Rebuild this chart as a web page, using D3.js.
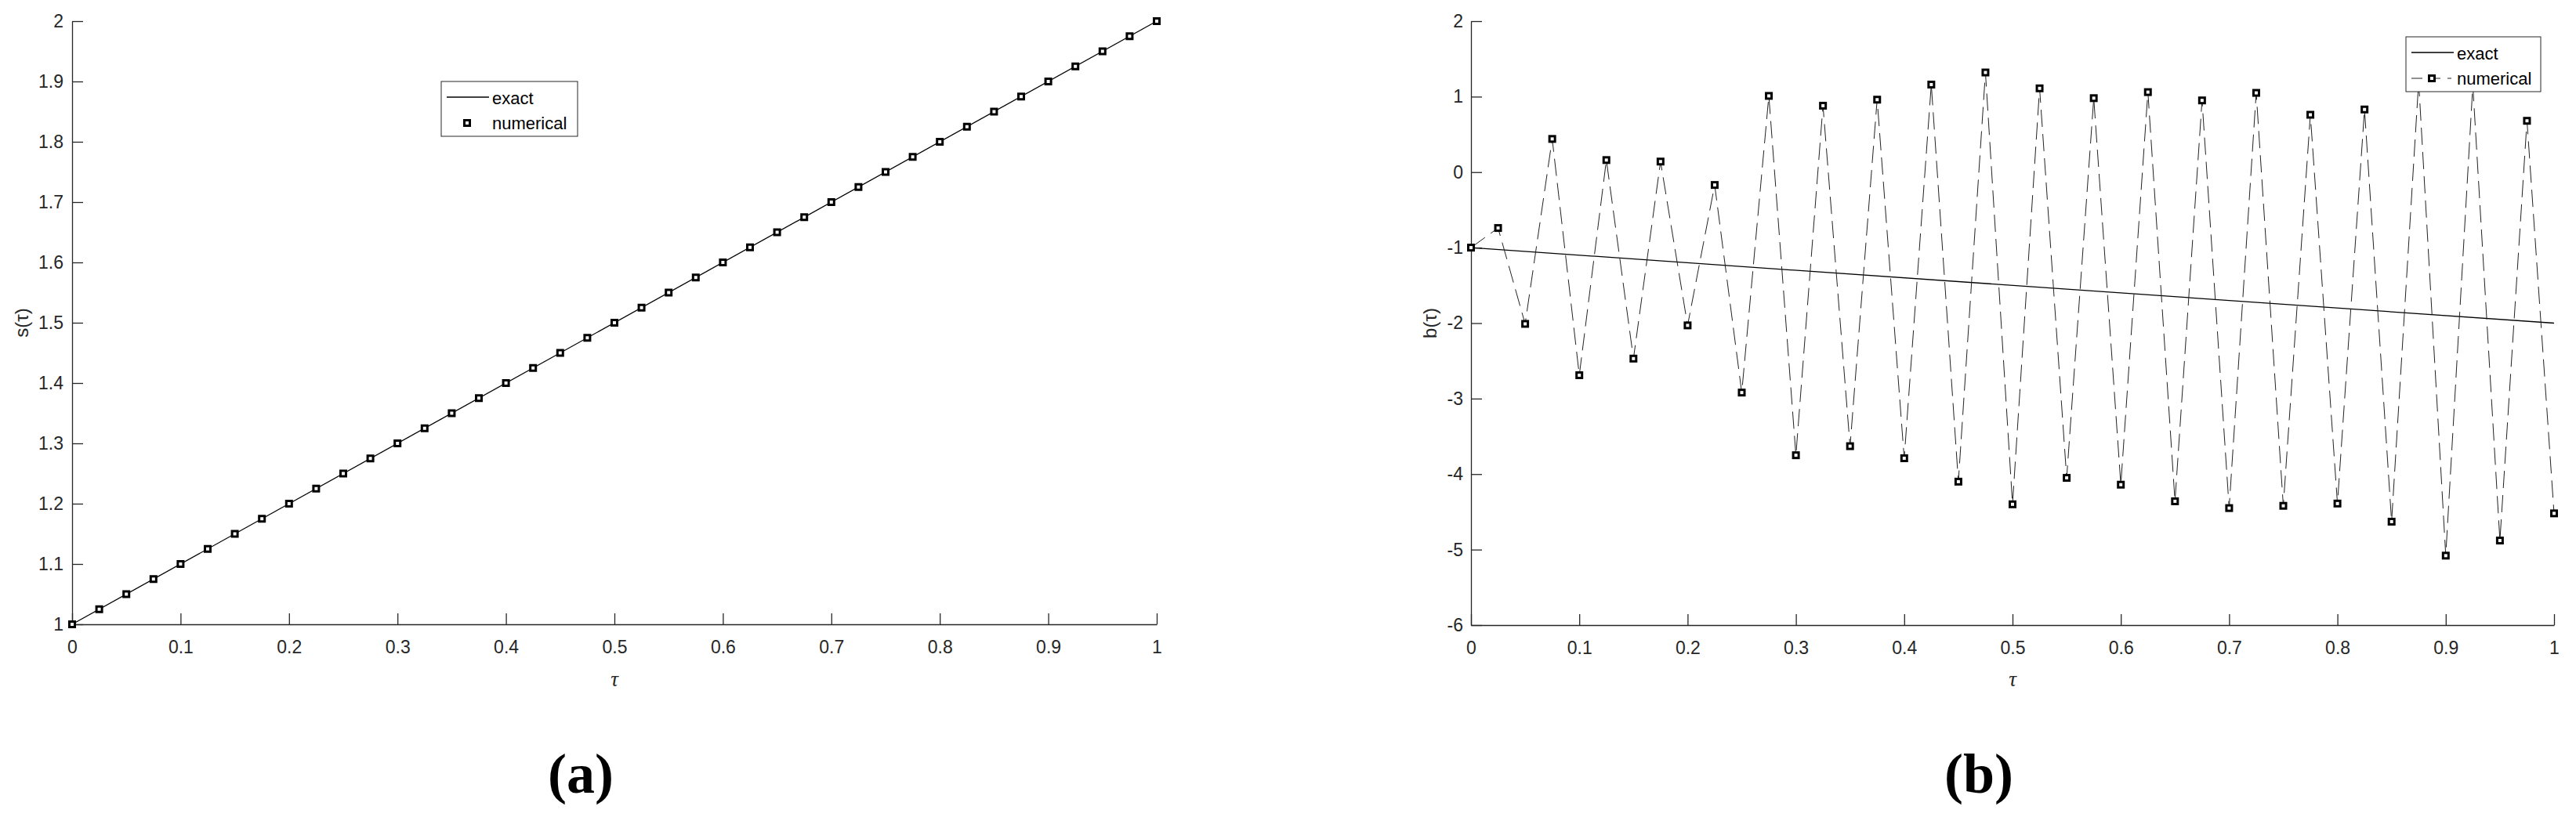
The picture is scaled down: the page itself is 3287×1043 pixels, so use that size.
<!DOCTYPE html>
<html>
<head>
<meta charset="utf-8">
<script src="https://cdn.jsdelivr.net/npm/d3@7"></script>
<style>
  body { margin: 0; background: #fff; }
  svg { display: block; }
</style>
</head>
<body>
<div id="chart"></div>
<script>
// tau grid of the numerical solution
const tau = [0, 0.025, 0.05, 0.075, 0.1, 0.125, 0.15, 0.175, 0.2, 0.225,
             0.25, 0.275, 0.3, 0.325, 0.35, 0.375, 0.4, 0.425, 0.45, 0.475,
             0.5, 0.525, 0.55, 0.575, 0.6, 0.625, 0.65, 0.675, 0.7, 0.725,
             0.75, 0.775, 0.8, 0.825, 0.85, 0.875, 0.9, 0.925, 0.95, 0.975, 1];

// exact solutions (straight lines)
const exactTau = [0, 1];
const sExact = [1, 2];
const bExact = [-1, -2];

// numerical values
const sNumerical = [1, 1.025, 1.05, 1.075, 1.1, 1.125, 1.15, 1.175, 1.2, 1.225,
                    1.25, 1.275, 1.3, 1.325, 1.35, 1.375, 1.4, 1.425, 1.45, 1.475,
                    1.5, 1.525, 1.55, 1.575, 1.6, 1.625, 1.65, 1.675, 1.7, 1.725,
                    1.75, 1.775, 1.8, 1.825, 1.85, 1.875, 1.9, 1.925, 1.95, 1.975, 2];
const bNumerical = [-1.0, -0.74, -2.01, 0.44, -2.69, 0.16, -2.47, 0.14, -2.03, -0.17,
                    -2.92, 1.01, -3.75, 0.88, -3.63, 0.96, -3.79, 1.16, -4.10, 1.32,
                    -4.40, 1.11, -4.05, 0.98, -4.14, 1.06, -4.36, 0.95, -4.45, 1.05,
                    -4.42, 0.76, -4.39, 0.83, -4.63, 1.2, -5.08, 1.15, -4.88, 0.68, -4.52];

// tick values
const xTicks = [0, 0.1, 0.2, 0.3, 0.4, 0.5, 0.6, 0.7, 0.8, 0.9, 1];
const sTicks = [1, 1.1, 1.2, 1.3, 1.4, 1.5, 1.6, 1.7, 1.8, 1.9, 2];
const bTicks = [-6, -5, -4, -3, -2, -1, 0, 1, 2];

const legendLabels = ["exact", "numerical"];

const W = 3287, H = 1043;
const axisColor = "#262626";
const sans = "'Liberation Sans', Arial, sans-serif";
const serif = "'Liberation Serif', 'Times New Roman', serif";

const svg = d3.select("#chart").append("svg")
    .attr("width", W)
    .attr("height", H);

const fmt = d => String(+d.toFixed(2));

function drawPanel(opt) {
    const x = d3.scaleLinear().domain([0, 1]).range([opt.left, opt.right]);
    const y = d3.scaleLinear().domain(opt.yDomain).range([opt.bottom, opt.top]);
    const g = svg.append("g");

    // axes (inward ticks, box off)
    const xAxis = g.append("g")
        .attr("transform", `translate(0,${opt.bottom})`)
        .call(d3.axisBottom(x).tickValues(xTicks).tickFormat(fmt)
            .tickSizeInner(-14).tickSizeOuter(0).tickPadding(21));
    const yAxis = g.append("g")
        .attr("transform", `translate(${opt.left},0)`)
        .call(d3.axisLeft(y).tickValues(opt.yTicks).tickFormat(fmt)
            .tickSizeInner(-14).tickSizeOuter(0).tickPadding(opt.yPad));
    [xAxis, yAxis].forEach(a => {
        a.selectAll("path, line").attr("stroke", axisColor).attr("stroke-width", 1.3);
        a.selectAll("text").attr("fill", axisColor)
            .style("font-family", sans).style("font-size", "23px");
    });

    // exact line
    const line = d3.line().x(d => x(d[0])).y(d => y(d[1]));
    g.append("path")
        .datum(exactTau.map((t, i) => [t, opt.exact[i]]))
        .attr("d", line)
        .attr("fill", "none")
        .attr("stroke", "#000")
        .attr("stroke-width", 1.3);

    const pts = tau.map((t, i) => [t, opt.numerical[i]]);
    if (opt.dashed) {
        g.append("path")
            .datum(pts)
            .attr("d", line)
            .attr("fill", "none")
            .attr("stroke", "#222")
            .attr("stroke-width", 1)
            .attr("stroke-dasharray", "22,9");
    }

    // square markers
    g.selectAll("rect.marker")
        .data(pts)
        .enter()
        .append("rect")
        .attr("class", "marker")
        .attr("x", d => x(d[0]) - 3.5)
        .attr("y", d => y(d[1]) - 3.5)
        .attr("width", 7)
        .attr("height", 7)
        .attr("fill", "#fff")
        .attr("stroke", "#000")
        .attr("stroke-width", 3);

    // axis labels
    g.append("text")
        .attr("x", (opt.left + opt.right) / 2)
        .attr("y", 876)
        .attr("text-anchor", "middle")
        .style("font-family", serif)
        .style("font-style", "italic")
        .style("font-size", "27px")
        .attr("fill", axisColor)
        .text("τ");
    g.append("text")
        .attr("transform", `translate(${opt.yLabelX},${(opt.top + opt.bottom) / 2}) rotate(-90)`)
        .attr("text-anchor", "middle")
        .attr("dy", "0.35em")
        .style("font-family", sans)
        .style("font-size", "24px")
        .attr("fill", axisColor)
        .text(opt.yLabel);

    // legend
    const lg = g.append("g").attr("transform", `translate(${opt.legend[0]},${opt.legend[1]})`);
    lg.append("rect")
        .attr("width", opt.legend[2])
        .attr("height", 70)
        .attr("fill", "#fff")
        .attr("stroke", axisColor)
        .attr("stroke-width", 1);
    lg.append("line")
        .attr("x1", 7).attr("x2", 61)
        .attr("y1", 20).attr("y2", 20)
        .attr("stroke", "#000").attr("stroke-width", 1.3);
    if (opt.dashed) {
        lg.append("line")
            .attr("x1", 7).attr("x2", 58)
            .attr("y1", 53).attr("y2", 53)
            .attr("stroke", "#222").attr("stroke-width", 1)
            .attr("stroke-dasharray", "14,9");
    }
    lg.append("rect")
        .attr("x", 33 - 3.5).attr("y", 53 - 3.5)
        .attr("width", 7).attr("height", 7)
        .attr("fill", "#fff").attr("stroke", "#000").attr("stroke-width", 3);
    lg.selectAll("text.lab")
        .data(legendLabels)
        .enter()
        .append("text")
        .attr("class", "lab")
        .attr("x", 65)
        .attr("y", (d, i) => 29 + i * 32)
        .style("font-family", sans)
        .style("font-size", "22px")
        .attr("fill", "#000")
        .text(d => d);

    // panel caption
    g.append("text")
        .attr("x", (opt.left + opt.right) / 2 - 43)
        .attr("y", 1012)
        .attr("text-anchor", "middle")
        .style("font-family", serif)
        .style("font-weight", "bold")
        .style("font-size", "72px")
        .attr("fill", "#000")
        .text(opt.caption);
}

drawPanel({
    left: 92, right: 1476, top: 27, bottom: 797,
    yDomain: [1, 2], yTicks: sTicks, yPad: 11, yLabelX: 28, yLabel: "s(τ)",
    exact: sExact, numerical: sNumerical, dashed: false,
    legend: [563, 104, 174], caption: "(a)"
});

drawPanel({
    left: 1877, right: 3259, top: 27, bottom: 798,
    yDomain: [-6, 2], yTicks: bTicks, yPad: 10, yLabelX: 1825, yLabel: "b(τ)",
    exact: bExact, numerical: bNumerical, dashed: true,
    legend: [3070, 47, 172], caption: "(b)"
});
</script>
</body>
</html>
